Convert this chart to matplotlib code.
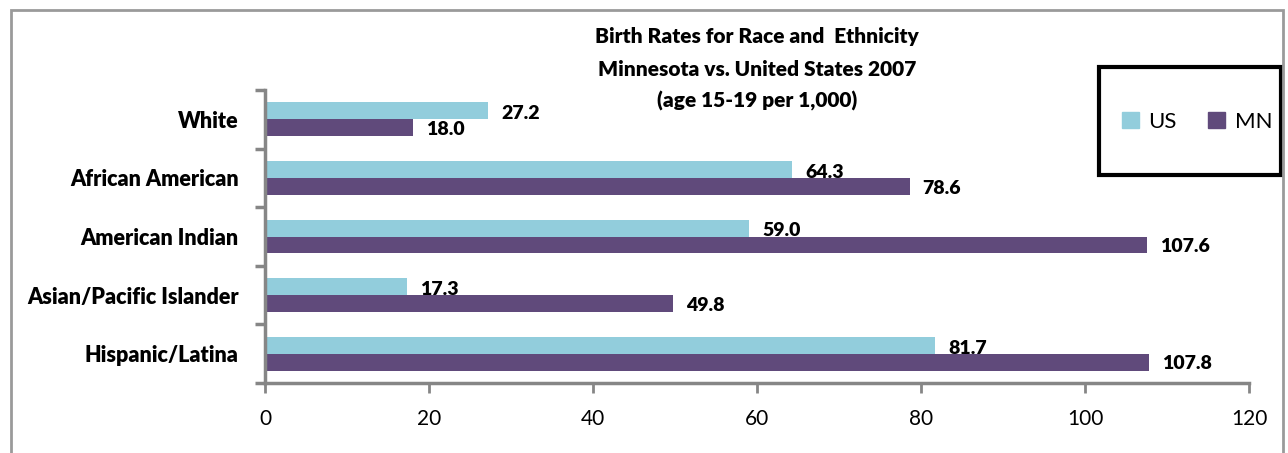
import numpy as np
import matplotlib.pyplot as plt
from matplotlib.patches import Rectangle, Patch

categories = ['White', 'African American', 'American Indian', 'Asian/Pacific Islander', 'Hispanic/Latina']
us_rates = [27.2, 64.3, 59.0, 17.3, 81.7]
mn_rates = [18.0, 78.6, 107.6, 49.8, 107.8]

plt.rcParams['font.family'] = ['Lato', 'DejaVu Sans']

us_color = '#92CDDC'
mn_color = '#604A7B'
gray = '#868686'

fig = plt.figure(figsize=(12.88, 4.53), dpi=100)
ax = fig.add_axes([265 / 1288, 1 - 383 / 453, (1249 - 265) / 1288, (383 - 90) / 453])

y = np.arange(len(categories))
h = 0.29
ax.barh(y - h / 2, us_rates, height=h, color=us_color, label='US')
ax.barh(y + h / 2, mn_rates, height=h, color=mn_color, label='MN')

# value labels, Excel style: just right of bar end
for i in range(len(categories)):
    ax.text(us_rates[i] + 1.6, y[i] - h / 2 + 0.05, f'{us_rates[i]:.1f}', va='center', ha='left',
            fontsize=14, fontweight='heavy')
    ax.text(mn_rates[i] + 1.6, y[i] + h / 2 + 0.03, f'{mn_rates[i]:.1f}', va='center', ha='left',
            fontsize=14, fontweight='heavy')

ax.set_ylim(len(categories) - 0.5, -0.5)
ax.set_xlim(0, 120)
ax.set_xticks(np.arange(0, 121, 20))
ax.set_yticks(y)
ax.set_yticklabels(categories, fontsize=15.5, fontweight='heavy')
ax.set_yticks(np.arange(-0.5, len(categories), 1), minor=True)
ax.tick_params(axis='y', which='major', length=0, pad=19)
ax.tick_params(axis='y', which='minor', length=7, width=2.5, color=gray)
ax.tick_params(axis='x', length=7, width=2, color=gray, labelsize=15, pad=12)

for s in ['top', 'right']:
    ax.spines[s].set_visible(False)
for s in ['left', 'bottom']:
    ax.spines[s].set_color(gray)
    ax.spines[s].set_linewidth(2.5)

title_lines = ['Birth Rates for Race and  Ethnicity', 'Minnesota vs. United States 2007', '(age 15-19 per 1,000)']
for line, ypx in zip(title_lines, [37, 70, 101]):
    fig.text(757 / 1288, 1 - ypx / 453, line, ha='center', va='center', fontsize=15, fontweight='heavy')

leg = fig.legend(handles=[Patch(color=us_color, label='US'), Patch(color=mn_color, label='MN')],
                 loc='center', bbox_to_anchor=(1197 / 1288, 1 - 122 / 453),
                 ncol=2, fontsize=16, frameon=False, handlelength=0.75, handleheight=0.75,
                 borderpad=0, columnspacing=1.4, handletextpad=0.45, borderaxespad=0)

# legend box
fig.patches.append(Rectangle((1099 / 1288, 1 - 175 / 453), (1281 - 1099) / 1288, (175 - 67) / 453,
                             transform=fig.transFigure, fill=False, edgecolor='black', linewidth=3))

# outer chart border
fig.patches.append(Rectangle((11 / 1288, -0.1), (1283 - 11) / 1288, 1.1 - 10 / 453,
                             transform=fig.transFigure, fill=False, edgecolor='#9a9a9a', linewidth=2))

fig.savefig('out.png', dpi=100)
